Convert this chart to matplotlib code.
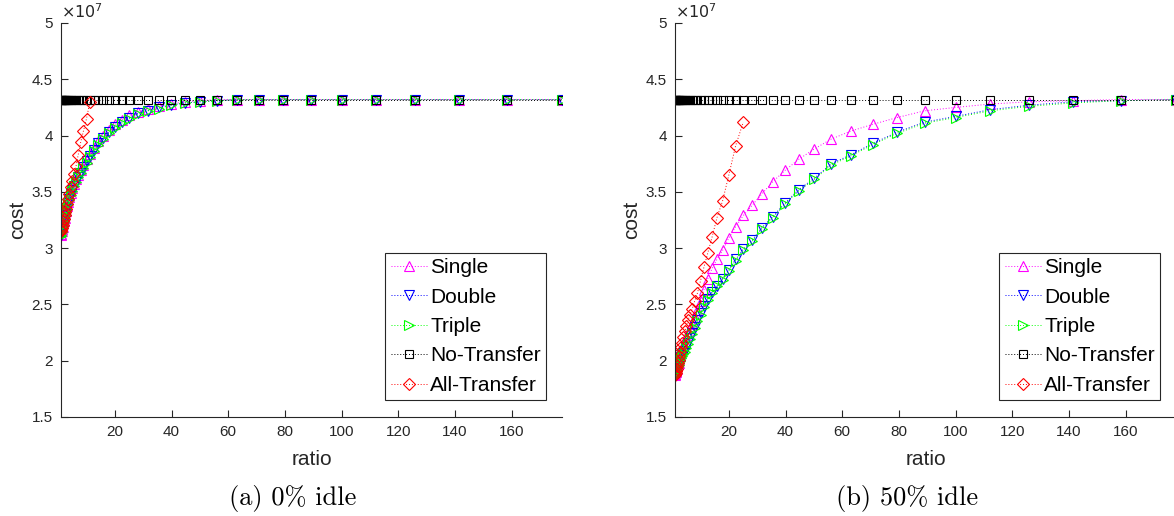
import numpy as np
import matplotlib
matplotlib.use('Agg')
import matplotlib.pyplot as plt

plt.rcParams['font.family'] = ['Liberation Sans', 'DejaVu Sans']

# ratio samples (shared x axis)
ratio = [1.00, 1.12, 1.26, 1.41, 1.58, 1.78, 2.00, 2.24, 2.51, 2.82,
         3.16, 3.55, 3.98, 4.47, 5.01, 5.62, 6.31, 7.08, 7.94, 8.91,
         10.0, 11.2, 12.6, 14.1, 15.8, 17.8, 20.0, 22.4, 25.1, 28.2,
         31.6, 35.5, 39.8, 44.7, 50.1, 56.2, 63.1, 70.8, 79.4, 89.1,
         100.0, 112.2, 125.9, 141.3, 158.5, 177.8]

# cost values in units of 1e7
# (a) 0% idle
single_a = [3.12, 3.13, 3.15, 3.17, 3.19, 3.22, 3.24, 3.27, 3.30, 3.33,
            3.37, 3.41, 3.45, 3.49, 3.53, 3.57, 3.61, 3.65, 3.69, 3.74,
            3.79, 3.84, 3.89, 3.95, 4.00, 4.05, 4.10, 4.14, 4.18, 4.21,
            4.24, 4.26, 4.28, 4.30, 4.31, 4.32, 4.32, 4.32, 4.32, 4.32,
            4.32, 4.32, 4.32, 4.32, 4.32, 4.32]
double_a = [3.12, 3.13, 3.15, 3.17, 3.19, 3.22, 3.24, 3.27, 3.30, 3.33,
            3.36, 3.40, 3.44, 3.48, 3.52, 3.55, 3.59, 3.63, 3.67, 3.72,
            3.77, 3.82, 3.87, 3.93, 3.98, 4.03, 4.08, 4.12, 4.16, 4.20,
            4.22, 4.25, 4.27, 4.29, 4.30, 4.31, 4.32, 4.32, 4.32, 4.32,
            4.32, 4.32, 4.32, 4.32, 4.32, 4.32]
triple_a = [3.11, 3.12, 3.14, 3.16, 3.18, 3.21, 3.23, 3.26, 3.29, 3.32,
            3.35, 3.39, 3.43, 3.47, 3.51, 3.55, 3.59, 3.63, 3.67, 3.71,
            3.76, 3.81, 3.86, 3.92, 3.97, 4.02, 4.07, 4.11, 4.15, 4.19,
            4.22, 4.24, 4.27, 4.29, 4.30, 4.31, 4.32, 4.32, 4.32, 4.32,
            4.32, 4.32, 4.32, 4.32, 4.32, 4.32]
no_transfer_a = [4.32] * len(ratio)
all_transfer_a = [3.15, 3.16, 3.18, 3.20, 3.21, 3.24, 3.26, 3.29, 3.32, 3.35,
                  3.39, 3.44, 3.48, 3.54, 3.60, 3.66, 3.73, 3.83, 3.94, 4.04,
                  4.15, 4.30]

# (b) 50% idle
single_b = [1.87, 1.88, 1.90, 1.91, 1.93, 1.95, 1.97, 1.98, 2.01, 2.04,
            2.07, 2.10, 2.14, 2.17, 2.21, 2.25, 2.29, 2.33, 2.39, 2.45,
            2.53, 2.63, 2.73, 2.82, 2.90, 2.98, 3.09, 3.19, 3.29, 3.38,
            3.48, 3.59, 3.69, 3.79, 3.88, 3.97, 4.04, 4.10, 4.16, 4.22,
            4.25, 4.28, 4.30, 4.31, 4.32, 4.32]
double_b = [1.87, 1.88, 1.89, 1.90, 1.92, 1.93, 1.95, 1.97, 1.99, 2.01,
            2.03, 2.05, 2.07, 2.09, 2.12, 2.16, 2.20, 2.25, 2.30, 2.36,
            2.42, 2.49, 2.55, 2.61, 2.66, 2.73, 2.81, 2.90, 2.99, 3.07,
            3.18, 3.28, 3.40, 3.52, 3.62, 3.75, 3.83, 3.93, 4.03, 4.12,
            4.17, 4.23, 4.27, 4.30, 4.31, 4.32]
triple_b = [1.86, 1.87, 1.88, 1.89, 1.91, 1.92, 1.94, 1.96, 1.98, 2.00,
            2.02, 2.04, 2.06, 2.08, 2.11, 2.15, 2.19, 2.24, 2.29, 2.35,
            2.41, 2.48, 2.54, 2.60, 2.66, 2.72, 2.80, 2.89, 2.98, 3.06,
            3.17, 3.27, 3.39, 3.51, 3.61, 3.74, 3.82, 3.92, 4.02, 4.11,
            4.16, 4.22, 4.26, 4.29, 4.31, 4.32]
no_transfer_b = [4.32] * len(ratio)
all_transfer_b = [1.87, 1.88, 1.89, 1.91, 1.93, 1.95, 1.98, 2.01, 2.04, 2.08,
                  2.12, 2.16, 2.21, 2.26, 2.31, 2.36, 2.41, 2.46, 2.53, 2.60,
                  2.71, 2.83, 2.96, 3.10, 3.27, 3.42, 3.65, 3.91, 4.12]

labels = ['Single', 'Double', 'Triple', 'No-Transfer', 'All-Transfer']
colors = ['#ff00ff', '#0000ff', '#00ff00', '#000000', '#ff0000']
markers = ['^', 'v', '>', 's', 'D']
msizes = [7.5, 7.5, 7.5, 6, 6]
yticks = [1.5, 2, 2.5, 3, 3.5, 4, 4.5, 5]
xticks = [20, 40, 60, 80, 100, 120, 140, 160]
captions = ['(a) 0% idle', '(b) 50% idle']

axcol = '#262626'

fig = plt.figure(figsize=(11.74, 5.16), dpi=100)
lefts = [61 / 1174, 675 / 1174]
w = 501 / 1174
b = 99 / 516
h = 394 / 516

panels = [
    [single_a, double_a, triple_a, no_transfer_a, all_transfer_a],
    [single_b, double_b, triple_b, no_transfer_b, all_transfer_b],
]

for p, series in enumerate(panels):
    ax = fig.add_axes([lefts[p], b, w, h])
    for i, ys in enumerate(series):
        ax.plot(ratio[:len(ys)], ys, linestyle=(0, (1, 2)), lw=0.7,
                color=colors[i], marker=markers[i], ms=msizes[i],
                mfc='none', mec=colors[i], mew=0.8, label=labels[i])
    ax.set_xlim(1, 177.8)
    ax.set_ylim(1.5, 5)
    ax.set_xticks(xticks)
    ax.set_yticks(yticks)
    ax.set_yticklabels(['%g' % v for v in yticks])
    for s in ['top', 'right']:
        ax.spines[s].set_visible(False)
    for s in ['left', 'bottom']:
        ax.spines[s].set_color(axcol)
        ax.spines[s].set_linewidth(0.8)
    ax.tick_params(direction='in', length=5, width=0.8, colors=axcol,
                   labelsize=11, pad=6)
    ax.set_xlabel('ratio', fontsize=15, color=axcol)
    ax.set_ylabel('cost', fontsize=15, color=axcol)
    ax.xaxis.set_label_coords(0.5, -0.085)
    ax.yaxis.set_label_coords(-0.068, 0.5)
    ax.text(0.0, 1.005, r'$\times10^{7}$', transform=ax.transAxes,
            fontsize=11.5, color=axcol, ha='left', va='bottom')
    leg = ax.legend(loc='lower right', bbox_to_anchor=(0.968, 0.043),
                    borderaxespad=0, fontsize=15, handlelength=1.75,
                    handletextpad=0.15, labelspacing=0.5, borderpad=0.25,
                    fancybox=False, framealpha=1)
    leg.get_frame().set_edgecolor(axcol)
    leg.get_frame().set_linewidth(0.8)
    fig.text((293 + p * 614) / 1174, 1 - 498 / 516, captions[p],
             fontsize=19, family='cmr10', ha='center', va='center')

fig.savefig('out.png', dpi=100)
